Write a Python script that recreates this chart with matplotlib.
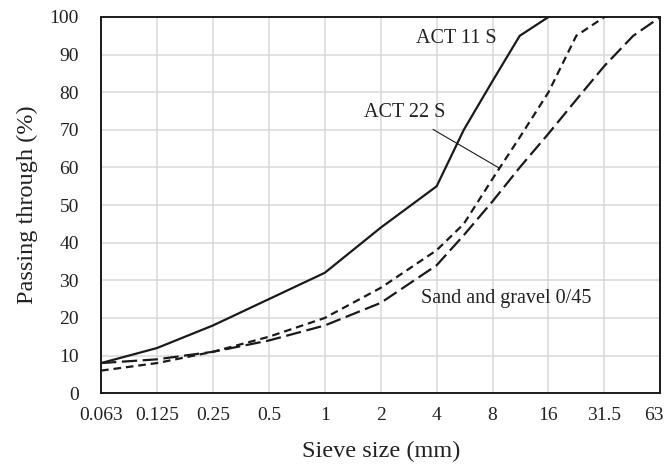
import numpy as np
import matplotlib
matplotlib.use("Agg")
import matplotlib.pyplot as plt
import matplotlib.transforms as mtransforms

# sieve sizes shown on the axis (equally spaced, Excel-style)
tick_sieves = [0.063, 0.125, 0.25, 0.5, 1, 2, 4, 8, 16, 31.5, 63]
tick_labels = ["0.063", "0.125", "0.25", "0.5", "1", "2", "4", "8", "16", "31.5", "63"]

act11_sieves = [0.063, 0.125, 0.25, 0.5, 1, 2, 4, 5.6, 8, 11.2, 16]
act11_pass = [8, 12, 18, 25, 32, 44, 55, 70, 83, 95, 100]

act22_sieves = [0.063, 0.125, 0.25, 0.5, 1, 2, 4, 5.6, 8, 11.2, 16, 22.4, 31.5]
act22_pass = [6, 8, 11, 15, 20, 28, 38, 45, 57, 68, 80, 95, 100]

sand_sieves = [0.063, 0.125, 0.25, 0.5, 1, 2, 4, 5.6, 8, 11.2, 16, 22.4, 31.5, 45, 63]
sand_pass = [8, 9, 11, 14, 18, 24, 34, 42, 51, 60, 69, 78, 87, 95, 100]


def to_pos(d):
    # map sieve size to position on the equally spaced category axis
    return np.interp(np.log(d), np.log(tick_sieves), np.arange(len(tick_sieves)))


plt.rcParams['font.family'] = ['Liberation Serif', 'DejaVu Serif']
plt.rcParams['lines.scale_dashes'] = False

fig = plt.figure(figsize=(6.65, 4.72), dpi=100)
ax = fig.add_axes([0.152, 0.167, 0.841, 0.797])

col = "#1a1a1a"
ax.plot(to_pos(act11_sieves), act11_pass, color=col, lw=1.6, solid_joinstyle='miter')
l22, = ax.plot(to_pos(act22_sieves), act22_pass, color=col, lw=1.6)
l22.set_dashes((5.5, 3.5))
lsand, = ax.plot(to_pos(sand_sieves), sand_pass, color=col, lw=1.6)
lsand.set_dashes((11, 4))

ax.set_xlim(0, len(tick_sieves) - 1)
ax.set_ylim(0, 100)
ax.set_xticks(np.arange(len(tick_sieves)))
ax.set_xticklabels(tick_labels)
ax.set_yticks(np.arange(0, 101, 10))
ax.tick_params(length=0, labelsize=14, colors="#222222")
ax.tick_params(axis='x', pad=10)
ax.tick_params(axis='y', pad=16)
ax.grid(True, color="#d9d9d9", lw=1.1)
ax.set_axisbelow(True)
for s in ax.spines.values():
    s.set_color(col)
    s.set_linewidth(1.4)

# last label is pushed left so it stays inside the figure
last = ax.get_xticklabels()[-1]
last.set_transform(last.get_transform() +
                   mtransforms.ScaledTranslation(-6 / 100, 0, fig.dpi_scale_trans))

ax.set_xlabel("Sieve size (mm)", fontsize=17.5, labelpad=12, color="#222222")
ax.set_ylabel("Passing through (%)", fontsize=17.5, labelpad=8, color="#222222")

ax.text(6.36, 94.4, "ACT 11 S", fontsize=14.5, ha='center', va='center', color="#222222")
ax.annotate("ACT 22 S", xy=(7.125, 59.8), xytext=(5.43, 74.5), fontsize=14.5,
            ha='center', va='center', color="#222222",
            arrowprops=dict(arrowstyle='-', color=col, lw=0.8, shrinkA=6, shrinkB=0))
ax.text(7.25, 25.3, "Sand and gravel 0/45", fontsize=14.5, ha='center', va='center',
        color="#222222")

fig.savefig("out.png", dpi=100)
